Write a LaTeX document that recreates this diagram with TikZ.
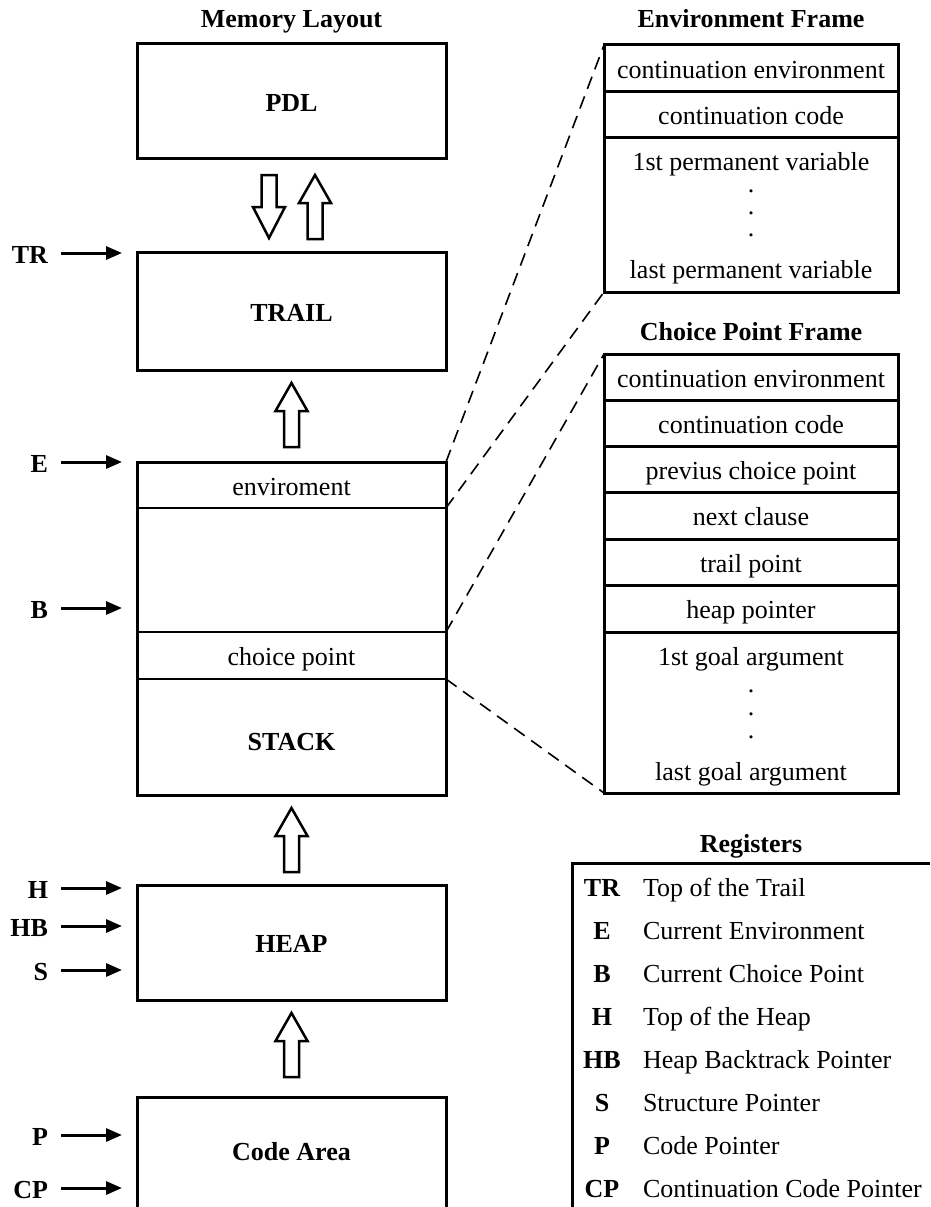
\documentclass[tikz,border=0pt]{standalone}
\usepackage{fontspec}
\setmainfont{Liberation Serif}
\usetikzlibrary{arrows.meta}
\begin{document}
\begin{tikzpicture}[x=1pt,y=-1pt,
  every node/.style={font=\fontsize{26}{31}\selectfont, inner sep=0pt, outer sep=0pt},
  txt/.style={text height=24pt, text depth=4pt},
  hd/.style={txt, font=\fontsize{26}{31}\selectfont\bfseries},
  membox/.style={draw, line width=3pt, minimum width=309pt},
  frame/.style={draw, line width=3pt, minimum width=294pt},
  rowline/.style={line width=3pt},
  thinline/.style={line width=1.5pt},
  ptr/.style={line width=3pt, -{Triangle[length=16pt,width=13pt]}, shorten <=13pt},
  hollow/.style={draw, line width=2.5pt, fill=white, line join=miter},
  dashlink/.style={line width=1.6pt, dash pattern=on 13pt off 8pt},
  hollow up/.pic={\path[hollow] (-7.5,0) -- (-7.5,-36) -- (-16,-36) -- (0,-64) -- (16,-36) -- (7.5,-36) -- (7.5,0) -- cycle;},
  hollow down/.pic={\path[hollow] (-7.5,0) -- (-7.5,32) -- (-16,32) -- (0,63) -- (16,32) -- (7.5,32) -- (7.5,0) -- cycle;}
]
\useasboundingbox (0,0) rectangle (930,1207);

% ---------- memory layout column ----------
\node[hd] (title) at (291.5,18) {Memory Layout};

\node[membox, minimum height=114pt, hd] (pdl) at (291.5,101) {PDL};
\node[membox, minimum height=118pt, hd] (trail) at (291.5,311) {TRAIL};

% stack with its two frame slots
\node[membox, minimum height=333pt] (stack) at (291.5,628.5) {};
\node[minimum width=309pt, minimum height=46pt, txt] (envslot) at (291.5,485) {enviroment};
\node[minimum width=309pt, minimum height=47pt, txt] (cpslot) at (291.5,655.5) {choice point};
\draw[thinline] (envslot.south west) -- (envslot.south east);
\draw[thinline] (cpslot.north west) -- (cpslot.north east);
\draw[thinline] (cpslot.south west) -- (cpslot.south east);
\node[hd] (stacklbl) at (291.5,740) {STACK};

\node[membox, minimum height=115pt, hd] (heap) at (291.5,942.5) {HEAP};

% code area runs off the bottom edge
\draw[line width=3pt] (137,1207) -- (137,1097) -- (446,1097) -- (446,1207);
\node[hd] (code) at (291.5,1150) {Code Area};

% growth arrows
\pic at (269,175) {hollow down};
\pic at (315,239) {hollow up};
\pic at (291.5,447) {hollow up};
\pic at (291.5,872) {hollow up};
\pic at (291.5,1077) {hollow up};

% ---------- register pointers ----------
\foreach \nm/\lbl/\yy in {tr/TR/253, e/E/462, b/B/608, h/H/888, hb/HB/926, s/S/970, p/P/1135, cp/CP/1188}{
  \node[hd, anchor=east] (p\nm) at (48,\yy) {\lbl};
  \coordinate (t\nm) at (122,\yy);
  \draw[ptr] (p\nm.east) -- (t\nm);
}

% ---------- environment frame ----------
\node[hd] (envtitle) at (751,18) {Environment Frame};
\node[frame, minimum height=247pt] (envframe) at (751,168.5) {};
\draw[rowline] (604,91) -- (898,91);
\draw[rowline] (604,137) -- (898,137);
\node[txt] (ef1) at (751,68) {continuation environment};
\node[txt] (ef2) at (751,114) {continuation code};
\node[txt] (ef3) at (751,160) {1st permanent variable};
\node[anchor=base] (efd1) at (751,192) {.};
\node[anchor=base] (efd2) at (751,214) {.};
\node[anchor=base] (efd3) at (751,236) {.};
\node[txt] (ef4) at (751,268) {last permanent variable};

% ---------- choice point frame ----------
\node[hd] (cptitle) at (751,330) {Choice Point Frame};
\node[frame, minimum height=439pt] (cpframe) at (751,573.5) {};
\foreach \yy in {400,446,492,539,585,632}{
  \draw[rowline] (604,\yy) -- (898,\yy);
}
\node[txt] (cf1) at (751,377) {continuation environment};
\node[txt] (cf2) at (751,423) {continuation code};
\node[txt] (cf3) at (751,469) {previus choice point};
\node[txt] (cf4) at (751,515.5) {next clause};
\node[txt] (cf5) at (751,562) {trail point};
\node[txt] (cf6) at (751,608.5) {heap pointer};
\node[txt] (cf7) at (751,655) {1st goal argument};
\node[anchor=base] (cfd1) at (751,692) {.};
\node[anchor=base] (cfd2) at (751,715) {.};
\node[anchor=base] (cfd3) at (751,738) {.};
\node[txt] (cf8) at (751,770) {last goal argument};

% links from stack slots to the frame layouts
\draw[dashlink] (envslot.north east) -- (envframe.north west);
\draw[dashlink] (envslot.south east) -- (envframe.south west);
\draw[dashlink] (cpslot.north east) -- (cpframe.north west);
\draw[dashlink] (cpslot.south east) -- (cpframe.south west);

% ---------- register legend ----------
\node[hd] (regtitle) at (751,842) {Registers};
\draw[line width=3pt] (572,1207) -- (572,863) -- (930,863);
\foreach \nm/\lbl/\desc/\yy in {
  rtr/TR/Top of the Trail/886,
  re/E/Current Environment/929,
  rb/B/Current Choice Point/972,
  rh/H/Top of the Heap/1015,
  rhb/HB/Heap Backtrack Pointer/1058,
  rs/S/Structure Pointer/1101,
  rp/P/Code Pointer/1144,
  rcp/CP/Continuation Code Pointer/1187}{
  \node[hd] (\nm) at (602,\yy) {\lbl};
  \node[txt, anchor=west] (\nm d) at (643,\yy) {\desc};
}
\end{tikzpicture}
\end{document}
